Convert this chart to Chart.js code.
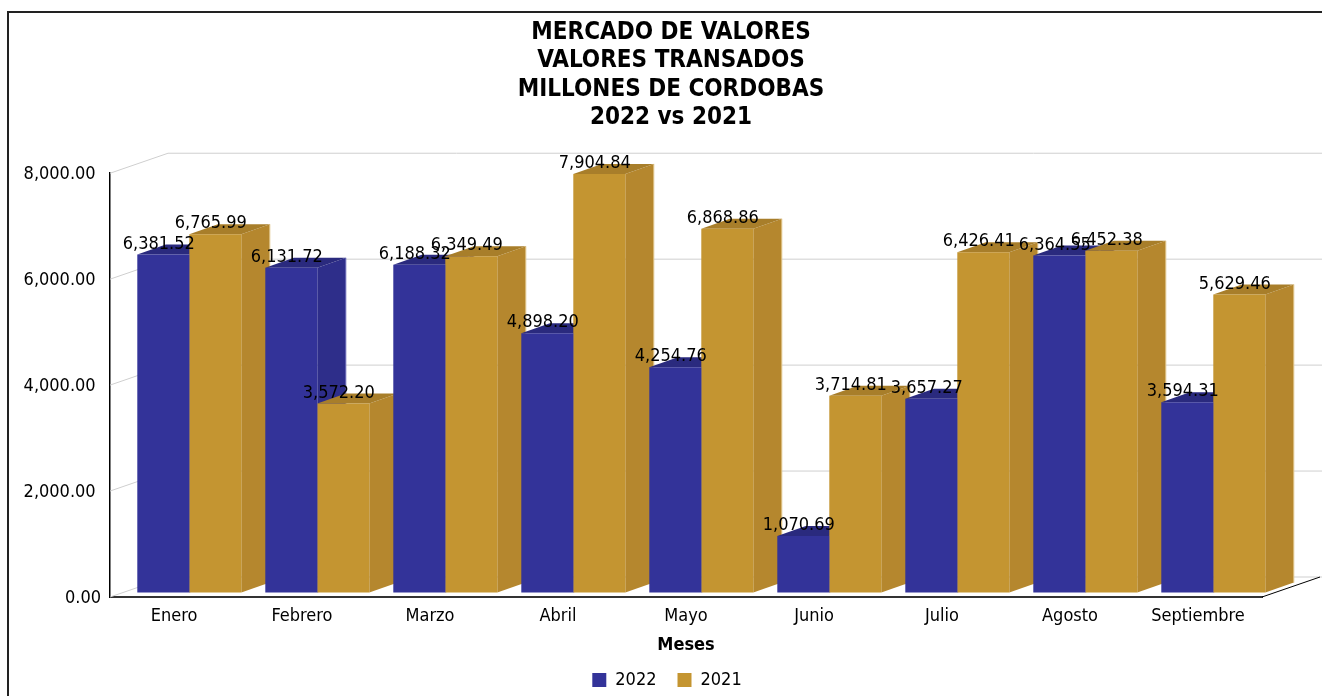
<!DOCTYPE html>
<html>
<head>
<meta charset="utf-8">
<title>Mercado de valores</title>
<script src="https://cdn.jsdelivr.net/npm/chart.js@4/dist/chart.umd.min.js"></script>
<style>
  html, body { margin: 0; padding: 0; background: #fff; overflow: hidden; }
  #frame { position: absolute; left: 7px; top: 11px; width: 1322px; height: 700px; border-left: 2px solid #222; border-top: 2px solid #222; }
  #wrap { position: absolute; left: 0; top: 0; width: 1322px; height: 696px; }
</style>
</head>
<body>
<div id="frame"></div>
<div id="wrap"><canvas id="chart"></canvas></div>
<script>
const months = ['Enero', 'Febrero', 'Marzo', 'Abril', 'Mayo', 'Junio', 'Julio', 'Agosto', 'Septiembre'];
const values2022 = [6381.52, 6131.72, 6188.32, 4898.20, 4254.76, 1070.69, 3657.27, 6364.55, 3594.31];
const values2021 = [6765.99, 3572.20, 6349.49, 7904.84, 6868.86, 3714.81, 6426.41, 6452.38, 5629.46];
const titleLines = ['MERCADO DE VALORES', 'VALORES TRANSADOS', 'MILLONES DE CORDOBAS', '2022 vs 2021'];

const FONT = '"DejaVu Sans Condensed", "DejaVu Sans", sans-serif';
const fmt = (v) => v.toLocaleString('en-US', { minimumFractionDigits: 2, maximumFractionDigits: 2 });

// shades for the fake 3D faces
const shades = [
  { side: '#2e2e8a', top: '#2a2a7e', edge: '#6a6ab8' },
  { side: '#b5872e', top: '#a87e2a', edge: '#e2c78c' },
];
const WALL = { dx: 58, dy: 20 };   // depth of the back wall
const BAR_OFF = { dx: 15.3, dy: 4.4 }; // bars stand a bit behind the front plane
const DEPTH = { dx: 28.5, dy: 10 };

const walls = {
  id: 'walls',
  afterLayout(chart) {
    // title and legend are not centred on the canvas in the original
    chart.titleBlock.left += 80;
    chart.legend.left += 72;
  },
  beforeDatasetsDraw(chart) {
    const { ctx, chartArea: a, scales: { y } } = chart;
    ctx.save();
    ctx.lineWidth = 1;
    ctx.strokeStyle = '#cfcfcf';
    y.ticks.forEach((t) => {
      const py = y.getPixelForValue(t.value);
      ctx.beginPath();
      ctx.moveTo(a.left, py);
      ctx.lineTo(a.left + WALL.dx, py - WALL.dy);
      ctx.lineTo(chart.width, py - WALL.dy);
      ctx.stroke();
    });
    ctx.strokeStyle = '#000';
    ctx.beginPath();
    ctx.moveTo(a.right, a.bottom);
    ctx.lineTo(a.right + WALL.dx, a.bottom - WALL.dy);
    ctx.stroke();
    ctx.restore();
  },
};

const bars3d = {
  id: 'bars3d',
  beforeDatasetsDraw(chart) {
    const { ctx } = chart;
    ctx.save();
    ctx.translate(BAR_OFF.dx, -BAR_OFF.dy);
    // side and top faces, left to right
    months.forEach((_, i) => {
      chart.data.datasets.forEach((ds, d) => {
        const b = chart.getDatasetMeta(d).data[i];
        const l = b.x - b.width / 2;
        const r = b.x + b.width / 2;
        ctx.fillStyle = shades[d].side;
        ctx.beginPath();
        ctx.moveTo(r, b.y);
        ctx.lineTo(r + DEPTH.dx, b.y - DEPTH.dy);
        ctx.lineTo(r + DEPTH.dx, b.base - DEPTH.dy);
        ctx.lineTo(r, b.base);
        ctx.closePath();
        ctx.fill();
        ctx.strokeStyle = shades[d].edge;
        ctx.lineWidth = 1;
        ctx.beginPath();
        ctx.moveTo(r + DEPTH.dx, b.y - DEPTH.dy);
        ctx.lineTo(r + DEPTH.dx, b.base - DEPTH.dy);
        ctx.stroke();
        ctx.fillStyle = shades[d].top;
        ctx.beginPath();
        ctx.moveTo(l, b.y);
        ctx.lineTo(l + DEPTH.dx, b.y - DEPTH.dy);
        ctx.lineTo(r + DEPTH.dx, b.y - DEPTH.dy);
        ctx.lineTo(r, b.y);
        ctx.closePath();
        ctx.fill();
      });
    });
  },
  afterDatasetsDraw(chart) {
    const { ctx } = chart;
    ctx.restore();
    // value labels sit on top of everything
    ctx.save();
    ctx.font = '18px ' + FONT;
    ctx.fillStyle = '#000';
    ctx.textAlign = 'center';
    ctx.textBaseline = 'middle';
    chart.data.datasets.forEach((ds, d) => {
      chart.getDatasetMeta(d).data.forEach((b, i) => {
        ctx.fillText(fmt(ds.data[i]), b.x + BAR_OFF.dx - 4.5, b.y - BAR_OFF.dy - 10.5);
      });
    });
    ctx.restore();
  },
};

Chart.defaults.animation = false;

new Chart(document.getElementById('chart'), {
  type: 'bar',
  data: {
    labels: months,
    datasets: [
      { label: '2022', data: values2022, backgroundColor: '#333399', categoryPercentage: 0.8125, barPercentage: 1, clip: false },
      { label: '2021', data: values2021, backgroundColor: '#c49531', categoryPercentage: 0.8125, barPercentage: 1, clip: false },
    ],
  },
  options: {
    responsive: true,
    maintainAspectRatio: false,
    layout: { autoPadding: false, padding: { left: 0, right: 60, top: 0, bottom: -3 } },
    scales: {
      x: {
        grid: { display: false, drawTicks: false },
        border: { display: true, color: '#333', width: 2 },
        ticks: { color: '#000', font: { family: FONT, size: 18 }, padding: 9, maxRotation: 0, autoSkip: false },
        title: { display: true, text: 'Meses', color: '#000', font: { family: FONT, size: 18, weight: 'bold' }, padding: { top: 0, bottom: -6 } },
        afterFit(scale) { scale.height = 53; },
      },
      y: {
        min: 0,
        max: 8000,
        grid: { display: false, drawTicks: false },
        border: { display: true, color: '#000', width: 1.5 },
        ticks: {
          stepSize: 2000,
          color: '#000',
          padding: 9,
          labelOffset: 1.5,
          font: { family: FONT, size: 18 },
          callback: (v) => (v === 0 ? fmt(v) : fmt(v) + '\u2004'),
        },
        afterFit(scale) { scale.width = 110; },
      },
    },
    plugins: {
      title: {
        display: true,
        text: titleLines,
        color: '#000',
        font: { family: FONT, size: 24, weight: 'bold', lineHeight: 1.19 },
        padding: { top: 18, bottom: 41 },
      },
      legend: {
        position: 'bottom',
        labels: { color: '#000', font: { family: FONT, size: 18 }, boxWidth: 14, boxHeight: 14, padding: 21 },
      },
      tooltip: { enabled: false },
    },
  },
  plugins: [walls, bars3d],
});
</script>
</body>
</html>
